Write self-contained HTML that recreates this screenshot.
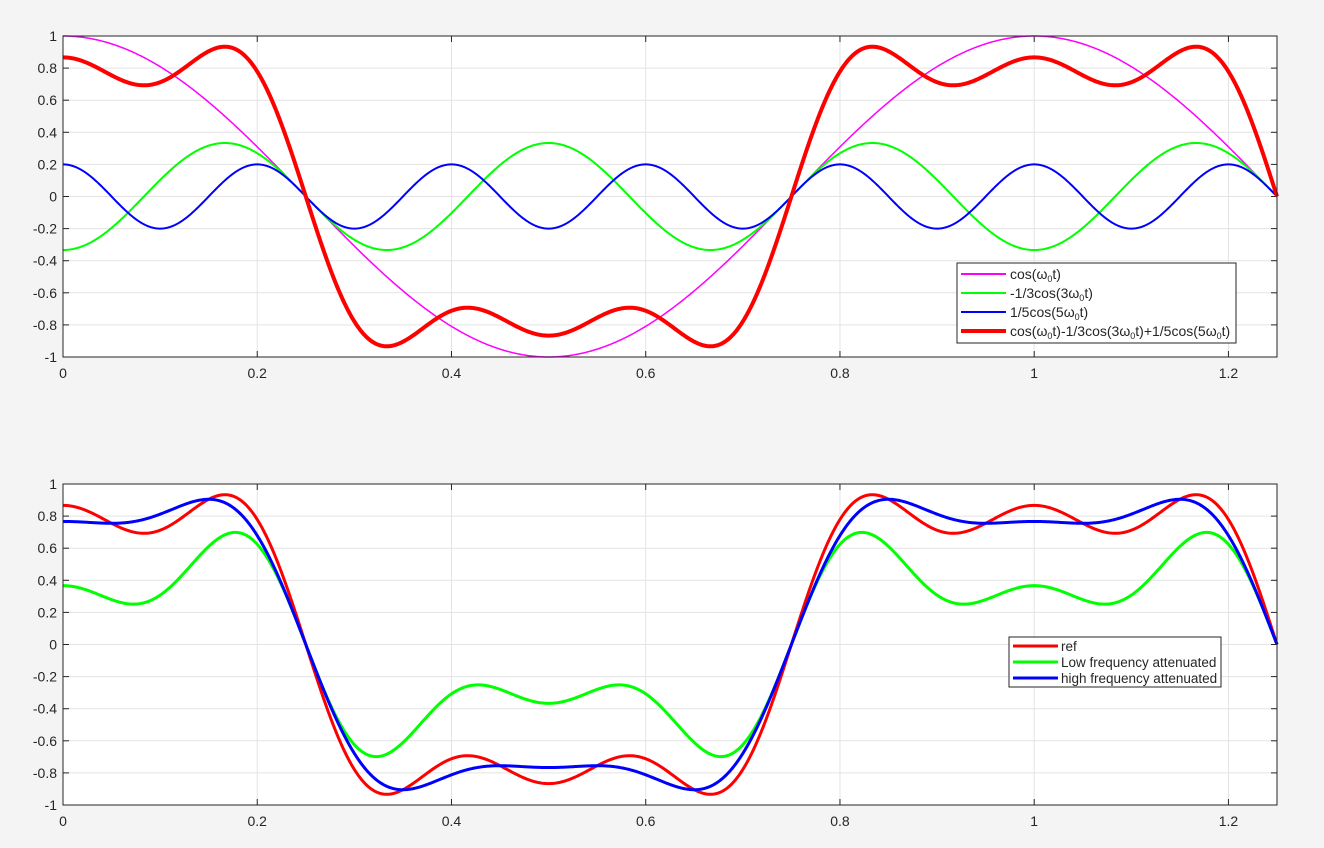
<!DOCTYPE html>
<html><head><meta charset="utf-8"><style>
html,body{margin:0;padding:0;background:#f4f4f4;}
svg{display:block;font-family:"Liberation Sans",sans-serif;}
</style></head><body>
<svg id="s" width="1324" height="848" xmlns="http://www.w3.org/2000/svg"></svg>
<script>
const S=document.getElementById('s');let h='';
const X0=63,X1=1277;
function fx(t){return X0+(X1-X0)*t/1.25;}
function axes(Y0,Y1){ // Y0 for +1, Y1 for -1
  const fy=v=>Y1-(Y1-Y0)*(v+1)/2;
  h+=`<rect x="${X0}" y="${Y0}" width="${X1-X0}" height="${Y1-Y0}" fill="#fff"/>`;
  for(let i=1;i<=6;i++){const x=fx(i*0.2);h+=`<line x1="${x}" y1="${Y0}" x2="${x}" y2="${Y1}" stroke="#e3e3e3"/>`;}
  for(let i=-9;i<=9;i++){const y=fy(i/10*1);if(i%2)continue;}
  for(let k=-4;k<=4;k++){const y=fy(k*0.2);h+=`<line x1="${X0}" y1="${y}" x2="${X1}" y2="${y}" stroke="#e3e3e3"/>`;}
  for(let i=0;i<=6;i++){const x=fx(i*0.2);
    h+=`<line x1="${x}" y1="${Y1}" x2="${x}" y2="${Y1-6}" stroke="#262626"/><line x1="${x}" y1="${Y0}" x2="${x}" y2="${Y0+6}" stroke="#262626"/>`;
    const l=i==0?'0':i==5?'1':(i*0.2).toFixed(1);
    h+=`<text x="${x}" y="${Y1+21}" font-size="14" text-anchor="middle" fill="#262626">${l}</text>`;}
  for(let k=-5;k<=5;k++){const v=k*0.2,y=fy(v);
    h+=`<line x1="${X0}" y1="${y}" x2="${X0+6}" y2="${y}" stroke="#262626"/><line x1="${X1}" y1="${y}" x2="${X1-6}" y2="${y}" stroke="#262626"/>`;
    const l=k==0?'0':Math.abs(k)==5?(k<0?'-1':'1'):v.toFixed(1);
    h+=`<text x="57" y="${y+5}" font-size="14" text-anchor="end" fill="#262626">${l}</text>`;}
  return fy;
}
function path(fy,f,col,w){let d='';for(let i=0;i<=1000;i++){const t=1.25*i/1000;d+=(i?'L':'M')+fx(t).toFixed(2)+','+fy(f(t)).toFixed(2);}
  h+=`<path d="${d}" fill="none" stroke="${col}" stroke-width="${w}" stroke-linejoin="round"/>`;}
const w=2*Math.PI,c=Math.cos;
const c1=t=>c(w*t),c3=t=>-c(3*w*t)/3,c5=t=>c(5*w*t)/5,sm=t=>c1(t)+c3(t)+c5(t);
let fy=axes(36,357);
path(fy,c1,'#ff00ff',1.5);path(fy,c3,'#00ff00',2);path(fy,c5,'#0000ff',2);path(fy,sm,'#ff0000',4);
h+=`<rect x="${X0}" y="36" width="${X1-X0}" height="321" fill="none" stroke="#262626"/>`;
function leg(x,y,wd,items){h+=`<rect x="${x}" y="${y}" width="${wd}" height="${items.length*19+4}" fill="#fff" stroke="#262626"/>`;
  items.forEach((it,i)=>{const yy=y+11+i*19;h+=`<line x1="${x+4}" y1="${yy}" x2="${x+49}" y2="${yy}" stroke="${it[1]}" stroke-width="${it[2]}"/><text x="${x+53}" y="${yy+5}" font-size="14" fill="#262626">${it[0]}</text>`;});}
const o='ω<tspan font-size="9" dy="3">0</tspan><tspan dy="-3">t)</tspan>';
leg(957,263,279,[['cos('+o,'#ff00ff',2],['-1/3cos(3'+o,'#00ff00',2],['1/5cos(5'+o,'#0000ff',2],
 ['cos(ω<tspan font-size="9" dy="3">0</tspan><tspan dy="-3">t)-1/3cos(3ω</tspan><tspan font-size="9" dy="3">0</tspan><tspan dy="-3">t)+1/5cos(5ω</tspan><tspan font-size="9" dy="3">0</tspan><tspan dy="-3">t)</tspan>','#ff0000',4]]);
fy=axes(484,805);
path(fy,t=>0.5*c1(t)+c3(t)+c5(t),'#00ff00',3);
path(fy,sm,'#ff0000',3);
path(fy,t=>c1(t)+c3(t)+0.5*c5(t),'#0000ff',3);
h+=`<rect x="${X0}" y="484" width="${X1-X0}" height="321" fill="none" stroke="#262626"/>`;
h+=`<rect x="1009" y="637" width="212" height="50" fill="#fff" stroke="#262626"/>`;
[['ref','#ff0000'],['Low frequency attenuated','#00ff00'],['high frequency attenuated','#0000ff']].forEach((it,i)=>{const yy=646+i*16;
 h+=`<line x1="1013" y1="${yy}" x2="1058" y2="${yy}" stroke="${it[1]}" stroke-width="3"/><text x="1061" y="${yy+5}" font-size="13.5" fill="#262626">${it[0]}</text>`;});
S.innerHTML=h;
</script>
</body></html>
